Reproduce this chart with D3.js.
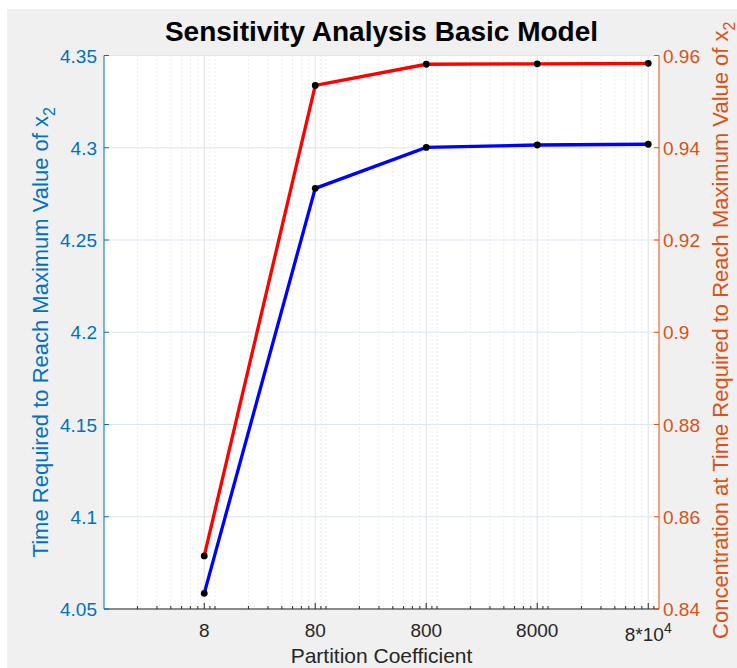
<!DOCTYPE html>
<html>
<head>
    <meta charset="utf-8">
    <script src="https://cdnjs.cloudflare.com/ajax/libs/d3/7.8.5/d3.min.js"></script>
    <style>
        body { margin: 0; background: #fff; }
        svg text { font-family: 'Liberation Sans', Arial, Helvetica, sans-serif; }
    </style>
</head>
<body>
    <svg width="737" height="668"></svg>
    <script>
        // data
        var partition = [8, 80, 800, 8000, 80000];
        var timeToMax = [4.0585, 4.2780, 4.3002, 4.3015, 4.3019];
        var concAtMax = [0.8515, 0.9535, 0.9581, 0.9582, 0.9583];
        var xTickLabels = ["8", "80", "800", "8000", "8*10^4"];
        var leftTicks = [4.05, 4.1, 4.15, 4.2, 4.25, 4.3, 4.35];
        var rightTicks = [0.84, 0.86, 0.88, 0.9, 0.92, 0.94, 0.96];

        var blueAx = "#0072BD", orangeAx = "#D95319", dark = "#262626";

        var svg = d3.select("svg");
        var margin = {top: 55.5, right: 78, bottom: 59, left: 104};
        var W = +svg.attr("width"), H = +svg.attr("height");

        // grey figure background
        svg.append("rect").attr("x", 7).attr("y", 9).attr("width", W - 7).attr("height", H - 9).attr("fill", "#f0f0f0");

        var x = d3.scaleLog().domain([1, 1e5]).range([margin.left, W - margin.right]);
        var yL = d3.scaleLinear().domain([4.05, 4.35]).range([H - margin.bottom, margin.top]);
        var yR = d3.scaleLinear().domain([0.84, 0.96]).range([H - margin.bottom, margin.top]);
        var x0 = x.range()[0], x1 = x.range()[1], yb = yL.range()[0], yt = yL.range()[1];

        svg.append("rect").attr("x", x0).attr("y", yt).attr("width", x1 - x0).attr("height", yb - yt).attr("fill", "#fff");

        // minor log ticks
        var minor = [];
        for (var k = 0; k < 5; k++) for (var m = 1; m <= 9; m++) {
            if (m === 8) continue;
            minor.push(m * Math.pow(10, k));
        }
        minor = minor.filter(function(d) { return d > 1; });

        var grid = svg.append("g");
        grid.selectAll(".mg").data(minor).enter().append("line")
            .attr("x1", function(d) { return x(d); }).attr("x2", function(d) { return x(d); })
            .attr("y1", yt).attr("y2", yb)
            .attr("stroke", "#d6d6d6").attr("stroke-width", 1).attr("stroke-dasharray", "1,3");
        grid.selectAll(".xg").data(partition).enter().append("line")
            .attr("x1", function(d) { return x(d); }).attr("x2", function(d) { return x(d); })
            .attr("y1", yt).attr("y2", yb)
            .attr("stroke", "#e1e1e1").attr("stroke-width", 1);
        grid.selectAll(".yg").data(leftTicks).enter().append("line")
            .attr("x1", x0).attr("x2", x1)
            .attr("y1", function(d) { return yL(d); }).attr("y2", function(d) { return yL(d); })
            .attr("stroke", "#dbe7f1").attr("stroke-width", 1);

        // lines
        var lineL = d3.line().x(function(d, i) { return x(partition[i]); }).y(function(d) { return yL(d); });
        var lineR = d3.line().x(function(d, i) { return x(partition[i]); }).y(function(d) { return yR(d); });
        svg.append("path").attr("d", lineL(timeToMax)).attr("fill", "none").attr("stroke", "#0000ff").attr("stroke-width", 3.3);
        svg.append("path").attr("d", lineR(concAtMax)).attr("fill", "none").attr("stroke", "#ff0000").attr("stroke-width", 3.3);
        svg.selectAll(".pl").data(timeToMax).enter().append("circle")
            .attr("cx", function(d, i) { return x(partition[i]); }).attr("cy", function(d) { return yL(d); })
            .attr("r", 3.4).attr("fill", "#000");
        svg.selectAll(".pr").data(concAtMax).enter().append("circle")
            .attr("cx", function(d, i) { return x(partition[i]); }).attr("cy", function(d) { return yR(d); })
            .attr("r", 3.4).attr("fill", "#000");

        // bottom axis
        var bx = svg.append("g");
        bx.append("line").attr("x1", x0).attr("x2", x1).attr("y1", yb).attr("y2", yb).attr("stroke", dark);
        bx.selectAll(".mt").data(minor).enter().append("line")
            .attr("x1", function(d) { return x(d); }).attr("x2", function(d) { return x(d); })
            .attr("y1", yb).attr("y2", yb - 3).attr("stroke", dark);
        bx.selectAll(".Mt").data(partition).enter().append("line")
            .attr("x1", function(d) { return x(d); }).attr("x2", function(d) { return x(d); })
            .attr("y1", yb).attr("y2", yb - 6).attr("stroke", dark);
        var xl = bx.selectAll(".xl").data(partition).enter().append("text")
            .attr("x", function(d) { return x(d); }).attr("y", yb + 28)
            .attr("text-anchor", "middle").attr("font-size", 19).attr("fill", dark);
        xl.each(function(d, i) {
            var parts = xTickLabels[i].split("^"), t = d3.select(this);
            t.append("tspan").text(parts[0]);
            if (parts[1]) {
                t.attr("y", yb + 32);
                t.append("tspan").attr("dy", -8).attr("font-size", 14).text(parts[1]);
            }
        });
        svg.append("text").attr("x", (x0 + x1) / 2).attr("y", H - 5).attr("text-anchor", "middle")
            .attr("font-size", 21).attr("fill", dark).text("Partition Coefficient");

        // left axis
        var la = svg.append("g");
        la.append("line").attr("x1", x0).attr("x2", x0).attr("y1", yb).attr("y2", yt).attr("stroke", blueAx);
        la.selectAll(".t").data(leftTicks).enter().append("line")
            .attr("x1", x0).attr("x2", x0 + 5)
            .attr("y1", function(d) { return yL(d); }).attr("y2", function(d) { return yL(d); }).attr("stroke", blueAx);
        la.selectAll(".l").data(leftTicks).enter().append("text")
            .attr("x", x0 - 7).attr("y", function(d) { return yL(d) + 7; })
            .attr("text-anchor", "end").attr("font-size", 19).attr("fill", blueAx)
            .text(function(d) { return d3.format("")(+d.toFixed(2)); });
        var lt = svg.append("text").attr("transform", "translate(48," + ((yt + yb) / 2) + ") rotate(-90)")
            .attr("text-anchor", "middle").attr("font-size", 22).attr("fill", blueAx);
        lt.append("tspan").text("Time Required to Reach Maximum Value of x");
        lt.append("tspan").attr("dy", 7).attr("font-size", 16).text("2");

        // right axis
        var ra = svg.append("g");
        ra.append("line").attr("x1", x1).attr("x2", x1).attr("y1", yb).attr("y2", yt).attr("stroke", orangeAx);
        ra.selectAll(".t").data(rightTicks).enter().append("line")
            .attr("x1", x1).attr("x2", x1 - 5)
            .attr("y1", function(d) { return yR(d); }).attr("y2", function(d) { return yR(d); }).attr("stroke", orangeAx);
        ra.selectAll(".l").data(rightTicks).enter().append("text")
            .attr("x", x1 + 4).attr("y", function(d) { return yR(d) + 7; })
            .attr("text-anchor", "start").attr("font-size", 19).attr("fill", orangeAx)
            .text(function(d) { return d3.format("")(+d.toFixed(2)); });
        var rt = svg.append("text").attr("transform", "translate(728," + ((yt + yb) / 2 - 2) + ") rotate(-90)")
            .attr("text-anchor", "middle").attr("font-size", 22).attr("fill", orangeAx);
        rt.append("tspan").text("Concentration at Time Required to Reach Maximum Value of x");
        rt.append("tspan").attr("dy", 7).attr("font-size", 16).text("2");

        // title
        svg.append("text").attr("x", (x0 + x1) / 2).attr("y", 41).attr("text-anchor", "middle")
            .attr("font-size", 28).attr("font-weight", "bold").attr("fill", "#000")
            .text("Sensitivity Analysis Basic Model");
    </script>
</body>
</html>
